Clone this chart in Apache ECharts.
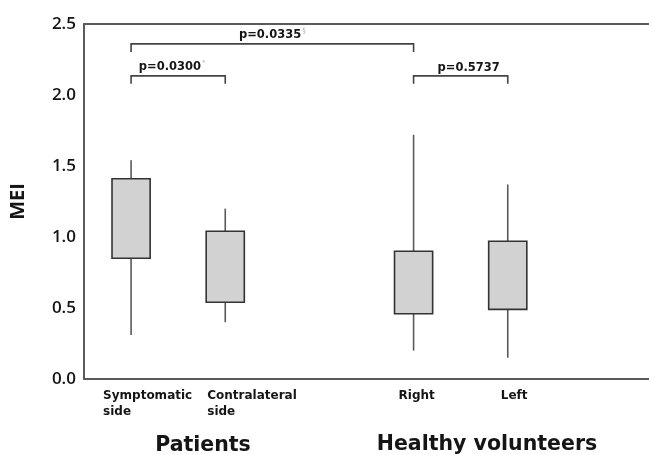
<!DOCTYPE html>
<html>
<head>
<meta charset="utf-8">
<script src="https://cdn.jsdelivr.net/npm/echarts@6/dist/echarts.min.js"></script>
<style>
  html, body { margin: 0; padding: 0; background: #fff; }
  #chart { width: 649px; height: 455px; }
</style>
</head>
<body>
<div id="chart"></div>
<script>
// Axis slots: two patient groups, a gap, two volunteer groups, a trailing gap
const categories = ['Symptomatic\nside', 'Contralateral\nside', '', 'Right', 'Left', ''];
const boxSlots = [0, 1, 3, 4];

// MEI distribution per group (whisker low, box low, box high, whisker high)
const whiskerLow  = [0.31, 0.40, 0.20, 0.15];
const boxLow      = [0.85, 0.54, 0.46, 0.49];
const boxHigh     = [1.41, 1.04, 0.90, 0.97];
const whiskerHigh = [1.54, 1.20, 1.72, 1.37];

// Y-axis ticks
const yTicks = [0.0, 0.5, 1.0, 1.5, 2.0, 2.5];

// Significance brackets: slot pairs, bracket height (MEI units), p-values and marks
const bracketFrom  = [0, 0, 3];
const bracketTo    = [1, 3, 4];
const bracketLevel = [2.135, 2.36, 2.135];
const pValues      = ['p=0.0300', 'p=0.0335', 'p=0.5737'];
const pMarks       = ['*', '§', ''];

// Group captions under the axis
const groupNames = ['Patients', 'Healthy volunteers'];

// Horizontal nudges (px) for the category captions, and bracket label nudges
const captionShift = [-28, -18, 0, -15, -7, 0];
const pLabelShift = [-6, 0, 8];

const LABEL_FONT = 'DejaVu Sans';
const INK = '#151515';
const LINE = '#5a5a5a';

const boxData = boxSlots.map((s, i) => [s, whiskerLow[i], boxLow[i], boxHigh[i], whiskerHigh[i]]);
const bracketData = pValues.map((p, i) => [bracketFrom[i], bracketTo[i], bracketLevel[i]]);
const captionData = categories.map((c, i) => [i, 0]).filter(d => categories[d[0]] !== '');

const chart = echarts.init(document.getElementById('chart'), null, { renderer: 'canvas' });

chart.setOption({
  animation: false,
  backgroundColor: '#fff',
  grid: { left: 79, top: 24, right: -6, bottom: 76 },
  xAxis: [
    {
      type: 'category',
      data: categories,
      boundaryGap: true,
      axisLine: { lineStyle: { color: LINE, width: 2 } },
      axisTick: { show: false },
      axisLabel: { show: false },
      splitLine: { show: false }
    },
    {
      type: 'category',
      position: 'top',
      data: categories,
      axisLine: { lineStyle: { color: LINE, width: 2 } },
      axisTick: { show: false },
      axisLabel: { show: false }
    }
  ],
  yAxis: {
    type: 'value',
    min: yTicks[0],
    max: yTicks[yTicks.length - 1],
    interval: 0.5,
    name: 'MEI',
    nameLocation: 'middle',
    nameGap: 56,
    nameTextStyle: { fontFamily: 'Open Sans', fontWeight: 'bold', fontSize: 20, color: INK },
    axisLine: { show: true, lineStyle: { color: LINE, width: 2 } },
    axisTick: { show: false },
    splitLine: { show: false },
    axisLabel: {
      margin: 8,
      color: INK,
      fontFamily: 'Open Sans',
      fontWeight: 600,
      fontSize: 17,
      formatter: v => v.toFixed(1)
    }
  },
  series: [
    {
      name: 'MEI',
      type: 'custom',
      data: boxData,
      encode: { x: 0, y: [1, 2, 3, 4] },
      renderItem: (params, api) => {
        const slot = api.value(0);
        const lo = api.coord([slot, api.value(1)]);
        const q1 = api.coord([slot, api.value(2)]);
        const q3 = api.coord([slot, api.value(3)]);
        const hi = api.coord([slot, api.value(4)]);
        const w = api.size([1, 0])[0] * 0.405;
        return {
          type: 'group',
          children: [
            {
              type: 'line',
              shape: { x1: lo[0], y1: lo[1], x2: hi[0], y2: hi[1] },
              style: { stroke: LINE, lineWidth: 1.6 }
            },
            {
              type: 'rect',
              shape: { x: q3[0] - w / 2, y: q3[1], width: w, height: q1[1] - q3[1] },
              style: { fill: '#d2d2d2', stroke: '#333', lineWidth: 1.6 }
            }
          ]
        };
      }
    },
    {
      name: 'brackets',
      type: 'custom',
      data: bracketData,
      encode: { x: [0, 1], y: 2 },
      renderItem: (params, api) => {
        const i = params.dataIndex;
        const a = api.coord([api.value(0), api.value(2)]);
        const b = api.coord([api.value(1), api.value(2)]);
        const drop = 8;
        const mark = pMarks[i];
        return {
          type: 'group',
          children: [
            {
              type: 'polyline',
              shape: { points: [[a[0], a[1] + drop], [a[0], a[1]], [b[0], a[1]], [b[0], a[1] + drop]] },
              style: { stroke: '#444', lineWidth: 1.6, fill: null }
            },
            {
              type: 'text',
              style: {
                x: (a[0] + b[0]) / 2 + pLabelShift[i],
                y: a[1] - 2,
                align: 'center',
                verticalAlign: 'bottom',
                text: '{p|' + pValues[i] + '}' + (mark ? '{s|' + mark + '}' : ''),
                rich: {
                  p: { fontFamily: LABEL_FONT, fontWeight: 'bold', fontSize: 11.5, fill: INK },
                  s: { fontFamily: LABEL_FONT, fontSize: 7, fill: '#b8b8b8', padding: [0, 0, 7, 1] }
                }
              }
            }
          ]
        };
      }
    },
    {
      name: 'captions',
      type: 'custom',
      data: captionData,
      encode: { x: 0, y: 1 },
      renderItem: (params, api) => {
        const slot = api.value(0);
        const p = api.coord([slot, 0]);
        return {
          type: 'text',
          style: {
            x: p[0] + captionShift[slot],
            y: p[1] + 9,
            align: 'left',
            verticalAlign: 'top',
            text: categories[slot],
            fontFamily: LABEL_FONT,
            fontWeight: 'bold',
            fontSize: 12,
            lineHeight: 16,
            fill: INK
          }
        };
      }
    }
  ],
  graphic: [
    {
      type: 'text',
      x: 203,
      y: 446,
      style: {
        text: groupNames[0], align: 'center', verticalAlign: 'middle',
        fontFamily: LABEL_FONT, fontWeight: 'bold', fontSize: 20.5, fill: INK
      }
    },
    {
      type: 'text',
      x: 487,
      y: 445,
      style: {
        text: groupNames[1], align: 'center', verticalAlign: 'middle',
        fontFamily: LABEL_FONT, fontWeight: 'bold', fontSize: 20.5, fill: INK
      }
    }
  ]
});
</script>
</body>
</html>
